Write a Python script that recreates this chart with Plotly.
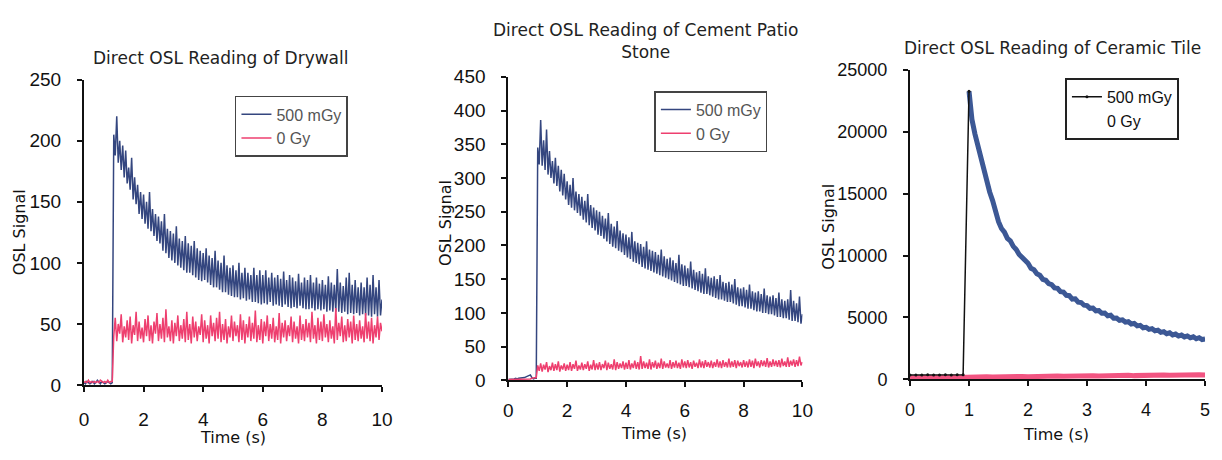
import plotly.graph_objects as go

W, H = 1222, 460

# ---------------- data ----------------
t0, dt = 0.0, 0.05          # sampling of Drywall / Cement curves
cer_pre_dt = 0.1            # sampling of Ceramic pre-stimulation segment / 0 Gy
cer_t_start, cer_dt = 1.0, 0.05

# Drywall
dry_500_pre = [2, 1, 3, 2, 1, 2, 3, 1, 2, 4, 2, 1, 3, 2, 1, 2, 3, 2, 1, 2]
dry_500 = [205, 188, 220, 182, 200, 176, 196, 170, 192, 165,
           178, 160, 186, 152, 170, 148, 164, 140, 158, 136,
           156, 132, 150, 128, 158, 126, 144, 122, 140, 118,
           138, 116, 134, 110, 140, 108, 128, 104, 126, 102,
           124, 100, 130, 98, 120, 96, 118, 94, 122, 92,
           116, 92, 114, 90, 118, 88, 112, 86, 110, 85,
           108, 86, 112, 84, 106, 82, 104, 80, 110, 80,
           102, 78, 100, 76, 106, 76, 98, 74, 96, 73,
           98, 72, 94, 72, 100, 70, 92, 71, 96, 69,
           92, 70, 90, 68, 96, 68, 90, 67, 94, 66,
           90, 67, 94, 66, 88, 68, 92, 65, 88, 66,
           90, 65, 87, 64, 93, 66, 86, 64, 90, 63,
           88, 64, 85, 63, 91, 65, 84, 63, 88, 62,
           86, 62, 90, 63, 84, 61, 88, 62, 83, 61,
           86, 62, 82, 60, 89, 61, 84, 60, 82, 60,
           95, 60, 84, 59, 81, 60, 88, 58, 92, 59,
           82, 58, 86, 59, 80, 57, 84, 58, 80, 57,
           88, 57, 82, 56, 90, 58, 80, 56, 86, 57,
           70]
dry_0_pre = [2, 3, 2, 4, 2, 3, 2, 3, 2, 3, 2, 4, 3, 2, 3, 2, 4, 2, 3, 3]
dry_0 = [40, 55, 36, 50, 42, 58, 35, 48, 39, 53,
         37, 56, 34, 49, 41, 60, 36, 52, 38, 47,
         35, 54, 40, 57, 36, 49, 34, 52, 42, 59,
         36, 50, 38, 55, 35, 62, 39, 48, 36, 53,
         34, 51, 40, 57, 36, 49, 38, 54, 35, 60,
         37, 50, 34, 56, 39, 52, 36, 48, 41, 58,
         35, 53, 38, 49, 34, 57, 40, 51, 36, 55,
         38, 60, 35, 50, 37, 54, 34, 48, 39, 57,
         36, 52, 40, 49, 35, 58, 37, 53, 34, 50,
         39, 56, 36, 51, 38, 61, 35, 49, 37, 54,
         34, 52, 40, 57, 36, 50, 38, 55, 35, 48,
         37, 59, 34, 51, 39, 53, 36, 49, 40, 56,
         35, 52, 38, 48, 34, 57, 37, 50, 36, 54,
         39, 51, 35, 60, 38, 49, 34, 55, 37, 52,
         36, 58, 39, 50, 35, 53, 38, 48, 34, 63,
         37, 51, 40, 56, 35, 49, 36, 54, 39, 52,
         34, 57, 37, 50, 36, 53, 38, 48, 35, 59,
         38, 52, 36, 55, 34, 49, 39, 56, 37, 51,
         44]

# Cement patio stone
cem_500_pre = [1, 1, 2, 2, 2, 3, 2, 3, 3, 4, 3, 4, 5, 6, 7, 8, 4, 2, 3, 3]
cem_500 = [345, 320, 386, 318, 356, 312, 372, 305, 340, 300,
           325, 292, 330, 288, 318, 280, 312, 274, 306, 268,
           295, 260, 290, 256, 300, 252, 280, 248, 276, 244,
           272, 238, 266, 234, 276, 230, 260, 226, 256, 222,
           252, 216, 250, 214, 244, 210, 240, 206, 248, 202,
           232, 198, 228, 196, 236, 192, 222, 190, 218, 186,
           216, 182, 212, 180, 220, 176, 206, 174, 204, 172,
           202, 168, 198, 166, 206, 164, 194, 162, 192, 160,
           190, 158, 186, 156, 194, 154, 184, 152, 180, 150,
           182, 148, 178, 146, 174, 144, 186, 142, 172, 140,
           170, 140, 166, 138, 176, 136, 164, 134, 160, 132,
           162, 130, 158, 128, 166, 128, 154, 126, 152, 124,
           154, 122, 150, 120, 156, 120, 146, 118, 144, 116,
           146, 116, 142, 114, 150, 112, 138, 110, 136, 110,
           138, 108, 134, 106, 142, 106, 132, 104, 130, 102,
           132, 102, 128, 100, 136, 100, 126, 98, 124, 98,
           126, 96, 122, 94, 130, 94, 120, 92, 118, 92,
           120, 90, 134, 88, 118, 88, 114, 86, 124, 84,
           98]
cem_0_pre = [1, 1, 1, 1, 1, 1, 1, 1, 1, 1, 1, 1, 1, 1, 1, 2, 3, 3, 3, 4]
cem_0 = [22, 14, 25, 13, 23, 16, 27, 12, 21, 15,
         26, 14, 24, 15, 28, 13, 22, 16, 25, 14,
         23, 15, 27, 14, 24, 17, 29, 14, 22, 16,
         26, 15, 24, 17, 28, 14, 23, 16, 30, 15,
         25, 16, 27, 15, 24, 18, 29, 15, 26, 17,
         24, 16, 31, 15, 27, 17, 25, 18, 28, 16,
         26, 17, 30, 16, 25, 18, 29, 17, 27, 16,
         36, 17, 28, 18, 26, 17, 31, 16, 27, 19,
         29, 17, 26, 18, 32, 17, 28, 19, 25, 18,
         30, 17, 27, 19, 29, 18, 26, 17, 31, 19,
         28, 18, 30, 19, 27, 17, 29, 20, 26, 18,
         31, 19, 28, 18, 30, 20, 27, 19, 29, 18,
         27, 20, 31, 19, 28, 18, 30, 20, 27, 19,
         32, 19, 28, 20, 30, 18, 29, 21, 27, 19,
         30, 20, 28, 19, 31, 20, 29, 18, 32, 21,
         28, 19, 30, 21, 29, 20, 33, 19, 28, 20,
         31, 21, 29, 20, 30, 19, 32, 21, 28, 20,
         34, 20, 29, 22, 31, 20, 30, 21, 35, 22,
         27]

# Ceramic tile
cer_500_pre = [350, 360, 340, 370, 350, 360, 380, 360, 370, 380, 23300]
cer_500 = [23300, 21000, 19850, 18850, 17950, 16950, 16150, 15150, 14450, 13450,
           12750, 12200, 11900, 11400, 11200, 10750, 10500, 10100, 9850, 9500,
           9380, 8980, 8860, 8540, 8420, 8090, 8010, 7740, 7660, 7390,
           7360, 7090, 7060, 6790, 6760, 6490, 6510, 6240, 6210, 5990,
           5960, 5740, 5760, 5540, 5560, 5340, 5360, 5140, 5180, 4940,
           4960, 4770, 4810, 4620, 4660, 4470, 4520, 4320, 4360, 4170,
           4210, 4040, 4100, 3920, 3980, 3800, 3860, 3690, 3760, 3590,
           3660, 3500, 3580, 3430, 3510, 3360, 3440, 3280, 3370, 3220,
           3260]
cer_0 = [120, 140, 110, 150, 130, 160, 140, 170, 150, 180,
         160, 190, 170, 200, 180, 210, 190, 220, 200, 230,
         210, 240, 220, 250, 230, 260, 240, 270, 250, 280,
         260, 290, 270, 300, 280, 310, 290, 320, 300, 330,
         310, 340, 320, 350, 330, 360, 340, 370, 350, 380,
         360]

titles = ["Direct OSL Reading of Drywall",
          "Direct OSL Reading of Cement Patio<br>Stone",
          "Direct OSL Reading of Ceramic Tile"]
x_ticks = [[0, 2, 4, 6, 8, 10], [0, 2, 4, 6, 8, 10], [0, 1, 2, 3, 4, 5]]
y_ticks = [[0, 50, 100, 150, 200, 250],
           [0, 50, 100, 150, 200, 250, 300, 350, 400, 450],
           [0, 5000, 10000, 15000, 20000, 25000]]
x_ranges = [[0, 10], [0, 10], [0, 5]]
y_ranges = [[0, 250], [0, 450], [0, 25000]]

# ---------------- styling ----------------
NAVY = "#34467f"
NAVY3 = "#3c5895"
PINK = "#ee3f6f"
PINK3 = "#f25582"
TICKFONT = "Liberation Sans, Arial, sans-serif"
TXTFONT = "DejaVu Sans, Verdana, sans-serif"


def px_x(x):
    return x / W


def px_y(y):
    return 1 - y / H


# plot areas in pixels: (left, right, top, bottom)
areas = [(80, 382, 73, 393), (510, 808, 70, 388), (917, 1216, 63, 387)]
x_standoff = [11, 7, 8]

fig = go.Figure()

# Drywall
fig.add_trace(go.Scatter(y=dry_500_pre + dry_500, x0=t0, dx=dt, mode="lines",
                         line=dict(color=NAVY, width=1.5), name="500 mGy",
                         xaxis="x", yaxis="y", legend="legend"))
fig.add_trace(go.Scatter(y=dry_0_pre + dry_0, x0=t0, dx=dt, mode="lines",
                         line=dict(color=PINK, width=1.5), name="0 Gy",
                         xaxis="x", yaxis="y", legend="legend"))
# Cement
fig.add_trace(go.Scatter(y=cem_500_pre + cem_500, x0=t0, dx=dt, mode="lines",
                         line=dict(color=NAVY, width=1.5), name="500 mGy",
                         xaxis="x2", yaxis="y2", legend="legend2"))
fig.add_trace(go.Scatter(y=cem_0_pre + cem_0, x0=t0, dx=dt, mode="lines",
                         line=dict(color=PINK, width=1.5), name="0 Gy",
                         xaxis="x2", yaxis="y2", legend="legend2"))
# Ceramic
fig.add_trace(go.Scatter(y=cer_0, x0=t0, dx=cer_pre_dt, mode="lines",
                         line=dict(color=PINK3, width=5), name="0 Gy", showlegend=False,
                         xaxis="x3", yaxis="y3"))
fig.add_trace(go.Scatter(y=cer_500, x0=cer_t_start, dx=cer_dt, mode="lines",
                         line=dict(color=NAVY3, width=5), name="500 mGy", showlegend=False,
                         xaxis="x3", yaxis="y3"))
fig.add_trace(go.Scatter(y=cer_500_pre, x0=t0, dx=cer_pre_dt, mode="lines+markers",
                         line=dict(color="#111111", width=1.5),
                         marker=dict(color="#111111", size=3), name="500 mGy",
                         xaxis="x3", yaxis="y3", legend="legend3"))
fig.add_trace(go.Scatter(x=[None], y=[None], mode="lines",
                         line=dict(color="rgba(0,0,0,0)", width=1), name="0 Gy",
                         xaxis="x3", yaxis="y3", legend="legend3"))

layout = dict(
    width=W, height=H, margin=dict(l=0, r=0, t=0, b=0),
    paper_bgcolor="white", plot_bgcolor="white", showlegend=True,
    font=dict(family=TICKFONT, color="#111"),
)

for i, (l, r, t, b) in enumerate(areas):
    sx = "" if i == 0 else str(i + 1)
    fs = 19 if i < 2 else 18
    layout["xaxis" + sx] = dict(
        domain=[px_x(l), px_x(r)], range=x_ranges[i], anchor="y" + sx,
        tickvals=x_ticks[i], ticks="outside", ticklen=5, tickwidth=1.5, tickcolor="#111",
        showline=True, linecolor="#111", linewidth=2, showgrid=False, zeroline=False,
        tickfont=dict(size=fs, family=TICKFONT, color="#111"),
        ticklabelstandoff=x_standoff[i],
    )
    layout["yaxis" + sx] = dict(
        domain=[px_y(b), px_y(t)], range=y_ranges[i], anchor="x" + sx,
        tickvals=y_ticks[i], tickformat="d", ticks="outside", ticklen=5, tickwidth=1.5,
        tickcolor="#111",
        showline=True, linecolor="#111", linewidth=2, showgrid=False, zeroline=False,
        tickfont=dict(size=fs, family=TICKFONT, color="#111"),
        ticklabelstandoff=12,
    )

legend_pos = [(233, 90), (658, 85), (1074, 71)]
for i, (lx, ly) in enumerate(legend_pos):
    key = "legend" if i == 0 else "legend" + str(i + 1)
    layout[key] = dict(
        x=px_x(lx), y=px_y(ly), xanchor="left", yanchor="top",
        xref="paper", yref="paper",
        bgcolor="white", bordercolor="#222" if i == 2 else "#444",
        borderwidth=2 if i == 2 else 1.5,
        font=dict(size=16, family=TICKFONT, color="#111" if i == 2 else "#555"),
        itemwidth=30, tracegroupgap=0,
    )

ann = []
title_pos = [(218, 50), (649, 32), (1061, 40)]
for (x, y), txt in zip(title_pos, titles):
    ann.append(dict(x=px_x(x), y=px_y(y), xref="paper", yref="paper", text=txt,
                    showarrow=False, xanchor="center", yanchor="middle",
                    font=dict(size=17, family=TXTFONT, color="#222")))
ytitle_pos = [(15, 233), (447, 223), (835, 227)]
for x, y in ytitle_pos:
    ann.append(dict(x=px_x(x), y=px_y(y), xref="paper", yref="paper", text="OSL Signal",
                    showarrow=False, textangle=-90, xanchor="center", yanchor="middle",
                    font=dict(size=16, family=TXTFONT, color="#111")))
xtitle_pos = [(231, 448), (658, 444), (1065, 445)]
for x, y in xtitle_pos:
    ann.append(dict(x=px_x(x), y=px_y(y), xref="paper", yref="paper", text="Time (s)",
                    showarrow=False, xanchor="center", yanchor="middle",
                    font=dict(size=16, family=TXTFONT, color="#111")))
layout["annotations"] = ann

fig.update_layout(**layout)
fig.write_html("out.html")
